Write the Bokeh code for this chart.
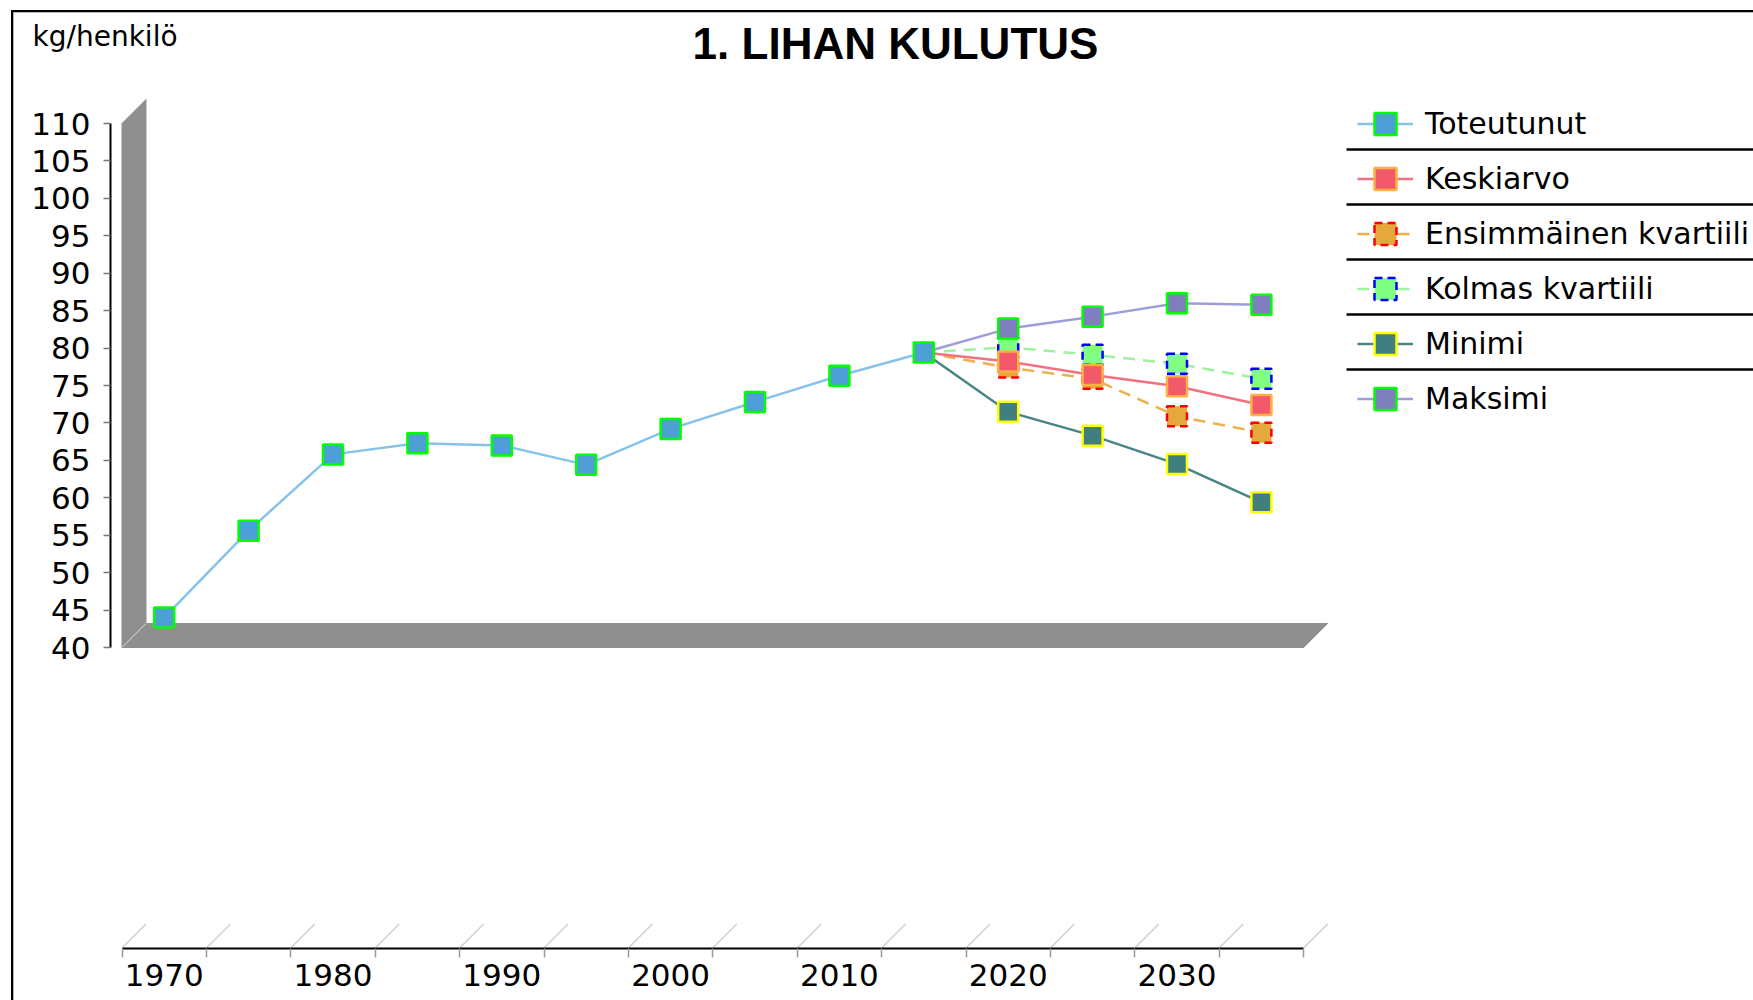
from bokeh.plotting import figure
from bokeh.models import Range1d, FixedTicker, Legend, LegendItem, Label
from bokeh.embed import file_html
from bokeh.resources import INLINE

# ---------------- data ----------------
years_actual = [1970, 1975, 1980, 1985, 1990, 1995, 2000, 2005, 2010, 2015]
toteutunut = [44.0, 55.6, 65.8, 67.3, 67.0, 64.4, 69.2, 72.8, 76.3, 79.4]

years_forecast = [2020, 2025, 2030, 2035]
keskiarvo = [78.2, 76.4, 74.9, 72.4]
ensimmainen_kvartiili = [77.4, 75.9, 70.9, 68.7]
kolmas_kvartiili = [80.1, 79.1, 77.9, 75.9]
minimi = [71.5, 68.3, 64.5, 59.4]
maksimi = [82.6, 84.2, 86.0, 85.8]

x_tick_labels = ["1970", "1980", "1990", "2000", "2010", "2020", "2030"]
y_ticks = [40, 45, 50, 55, 60, 65, 70, 75, 80, 85, 90, 95, 100, 105, 110]

title_text = "1. LIHAN KULUTUS"
unit_text = "kg/henkilö"

# ---------------- geometry (frame covers the whole canvas) ----------------
W, H = 1753, 1000
all_years = years_actual + years_forecast
PX_PER_YEAR = 84.4 / 5
PX_PER_UNIT = 7.486

x_lo = all_years[0] - 2.5
x_hi = all_years[-1] + 2.5
x_start = x_lo - 121.5 / PX_PER_YEAR
x_end = x_start + W / PX_PER_YEAR
y_end = y_ticks[-1] + 123 / PX_PER_UNIT
y_start = y_end - H / PX_PER_UNIT


def px2x(px):
    return x_start + px / PX_PER_YEAR


def px2y(py):
    return y_end - py / PX_PER_UNIT


DX = 24 / PX_PER_YEAR
DY = 24 / PX_PER_UNIT
X_AXIS_Y = px2y(947.5)
Y_AXIS_X = px2x(110)

p = figure(width=W, height=H,
           x_range=Range1d(x_start, x_end), y_range=Range1d(y_start, y_end),
           output_backend="svg", toolbar_location=None,
           min_border_left=0, min_border_right=0, min_border_top=0, min_border_bottom=0,
           background_fill_color="white", border_fill_color="white",
           outline_line_color=None)
p.xgrid.visible = False
p.ygrid.visible = False

# ---------------- outer chart border ----------------
p.quad(left=[px2x(10.5), px2x(10.5)], right=[px2x(12.8), px2x(1800)],
       top=[px2y(9.5), px2y(9.5)], bottom=[px2y(1100), px2y(11.8)],
       fill_color="black", line_color=None)

# ---------------- 3D wall and floor ----------------
y_lo, y_hi = y_ticks[0], y_ticks[-1]
WALL = "#8f8f8f"
p.patch([x_lo, x_lo, x_lo + DX, x_lo + DX], [y_lo, y_hi, y_hi + DY, y_lo + DY],
        fill_color=WALL, line_color=WALL, line_width=1)
p.patch([x_lo, x_hi, x_hi + DX, x_lo + DX], [y_lo, y_lo, y_lo + DY, y_lo + DY],
        fill_color=WALL, line_color=WALL, line_width=1)
p.line([x_lo, x_lo + DX], [y_lo, y_lo + DY], line_color="#b8b8b8", line_width=1.5)

boundaries = [yr - 2.5 for yr in all_years] + [all_years[-1] + 2.5]
p.segment(x0=boundaries, y0=[X_AXIS_Y] * len(boundaries),
          x1=[b + DX for b in boundaries], y1=[X_AXIS_Y + DY] * len(boundaries),
          line_color="#d0d0d0", line_width=1.5)

# ---------------- series ----------------
series = [
    # label, values, line color, line dash, fill, border, border dash
    ("Kolmas kvartiili", kolmas_kvartiili, "#9ef29e", "12 8", "#80ff80", "#0000ff", "8 5"),
    ("Ensimmäinen kvartiili", ensimmainen_kvartiili, "#eeb04e", "12 8", "#e5a83c", "#ff0000", "8 5"),
    ("Keskiarvo", keskiarvo, "#f2707f", "solid", "#f25a6b", "#ffb040", "solid"),
    ("Minimi", minimi, "#4a8585", "solid", "#3f7f7f", "#ffff00", "solid"),
    ("Maksimi", maksimi, "#9d9dd8", "solid", "#7f7fbf", "#00ff00", "solid"),
]

renderers = {}
lx = [years_actual[-1]] + years_forecast
tl = p.line(years_actual, toteutunut, line_color="#86c3ea", line_width=2.5)
renderers["Toteutunut"] = [tl]
for name, vals, lc, ld, fc, bc, bd in series:
    r = p.line(lx, [toteutunut[-1]] + vals, line_color=lc, line_width=2.5, line_dash=ld)
    renderers[name] = [r]
for name, vals, lc, ld, fc, bc, bd in series:
    s = p.scatter(years_forecast, vals, marker="square", size=20,
                  fill_color=fc, line_color=bc, line_width=2.5, line_dash=bd)
    renderers[name].append(s)
ts = p.scatter(years_actual, toteutunut, marker="square", size=20,
               fill_color="#4d9fd6", line_color="#00ff00", line_width=2.5)
renderers["Toteutunut"].append(ts)

# ---------------- axes (pinned inside the canvas) ----------------
xax = p.xaxis[0]
xax.fixed_location = X_AXIS_Y
xax.ticker = FixedTicker(ticks=[int(t) for t in x_tick_labels], minor_ticks=boundaries)
xax.major_label_overrides = {int(t): t for t in x_tick_labels}
xax.bounds = (x_lo, x_hi)
xax.axis_line_color = "black"
xax.axis_line_width = 2
xax.major_tick_line_color = None
xax.major_tick_out = 9
xax.major_tick_in = 0
xax.minor_tick_line_color = "#9a9a9a"
xax.minor_tick_line_width = 1.5
xax.minor_tick_out = 9
xax.minor_tick_in = 0
xax.major_label_standoff = 7
xax.major_label_text_font = "DejaVu Sans"
xax.major_label_text_font_size = "31px"
xax.major_label_text_color = "black"

yax = p.yaxis[0]
yax.fixed_location = Y_AXIS_X
yax.ticker = FixedTicker(ticks=y_ticks)
yax.bounds = (y_lo, y_hi)
yax.axis_line_color = "black"
yax.axis_line_width = 2
yax.major_tick_line_color = "#777777"
yax.major_tick_line_width = 1.5
yax.major_tick_out = 7
yax.major_tick_in = 0
yax.minor_tick_line_color = None
yax.major_label_standoff = 13
yax.major_label_text_font = "DejaVu Sans"
yax.major_label_text_font_size = "31px"
yax.major_label_text_color = "black"

# ---------------- legend ----------------
legend_order = ["Toteutunut", "Keskiarvo", "Ensimmäinen kvartiili",
                "Kolmas kvartiili", "Minimi", "Maksimi"]
SEP_TOP, ROW_H, LEG_LEFT = 94, 55, 1357
LEG_TOP = SEP_TOP + 2
legend = Legend(items=[LegendItem(label=n, renderers=renderers[n]) for n in legend_order],
                location=(LEG_LEFT, H - (LEG_TOP + ROW_H * len(legend_order))),
                glyph_width=56, glyph_height=ROW_H, label_height=ROW_H,
                label_standoff=12, spacing=0, padding=0, margin=0,
                border_line_color=None, background_fill_alpha=0,
                label_text_font="DejaVu Sans", label_text_font_size="30px",
                label_text_color="black")
p.add_layout(legend)

sep_y = [px2y(SEP_TOP + ROW_H * k) for k in range(1, len(legend_order))]
p.segment(x0=[px2x(1346)] * len(sep_y), y0=sep_y, x1=[px2x(1800)] * len(sep_y), y1=sep_y,
          line_color="black", line_width=2.5)

# ---------------- texts ----------------
p.add_layout(Label(x=px2x(895), y=px2y(42.5), text=title_text, text_align="center",
                   text_baseline="middle", text_font="Liberation Sans",
                   text_font_style="bold", text_font_size="44px", text_color="black"))
p.add_layout(Label(x=px2x(32), y=px2y(36), text=unit_text, text_align="left",
                   text_baseline="middle", text_font="DejaVu Sans",
                   text_font_size="28px", text_color="black"))

open("out.html", "w").write(file_html(p, INLINE))
